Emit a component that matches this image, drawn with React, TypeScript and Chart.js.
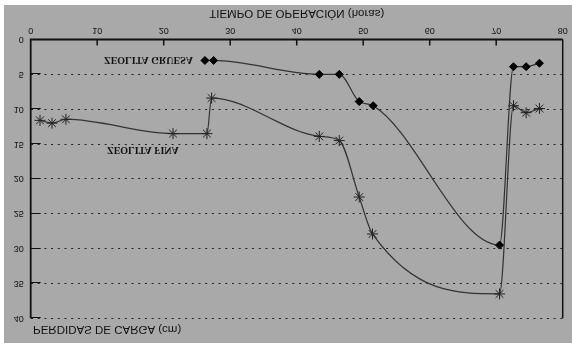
import React, { useEffect, useRef } from "react";
import { Chart, registerables } from "chart.js";

Chart.register(...registerables);

const gruesaX = [26.2, 27.5, 43.4, 46.4, 49.4, 51.5, 70.5, 72.6, 74.5, 76.5];
const gruesaY = [3.0, 3.0, 5.0, 5.0, 8.9, 9.5, 29.5, 3.9, 3.9, 3.4];
const finaX = [1.4, 3.2, 5.3, 21.4, 26.5, 27.2, 43.4, 46.4, 49.4, 51.4, 70.5, 72.6, 74.5, 76.5];
const finaY = [11.6, 12.0, 11.45, 13.5, 13.5, 8.4, 13.9, 14.5, 22.6, 27.9, 36.5, 9.5, 10.5, 9.9];
const xTicks = [0, 10, 20, 30, 40, 50, 60, 70, 80];
const yTicks = [0, 5, 10, 15, 20, 25, 30, 35, 40];
const xTitle = "TIEMPO DE OPERACIÓN (horas)";
const yTitle = "PERDIDAS DE CARGA (cm)";
const gruesaLabel = "ZEOLITA GRUESA";
const finaLabel = "ZEOLITA FINA";

const W = 568;
const H = 338;

export default function App() {
  const ref = useRef<HTMLCanvasElement | null>(null);
  useEffect(() => {
    if (!ref.current) return;
    const decor = {
      id: "decor",
      afterDraw(chart: any) {
        const { ctx, chartArea: a, scales } = chart;
        const xs = scales.x;
        const ys = scales.y;
        ctx.save();
        ctx.strokeStyle = "#111";
        ctx.setLineDash([]);
        ctx.lineWidth = 1;
        yTicks.forEach((v) => {
          if (v === 0) return;
          const y = Math.round(ys.getPixelForValue(v)) + 0.5;
          ctx.beginPath();
          ctx.moveTo(a.left, y);
          ctx.lineTo(a.left + 10, y);
          ctx.stroke();
        });
        ctx.lineWidth = 1.5;
        xTicks.forEach((v) => {
          if (v === 0 || v === 80) return;
          const x = xs.getPixelForValue(v);
          ctx.beginPath();
          ctx.moveTo(x, a.bottom);
          ctx.lineTo(x, a.bottom - 6);
          ctx.stroke();
        });
        ctx.lineWidth = 1.8;
        ctx.beginPath();
        ctx.moveTo(a.left, a.top);
        ctx.lineTo(a.left, a.bottom);
        ctx.lineTo(a.right, a.bottom);
        ctx.stroke();
        ctx.lineWidth = 1.5;
        ctx.beginPath();
        ctx.moveTo(a.right, a.top);
        ctx.lineTo(a.right, a.bottom);
        ctx.stroke();
        ctx.fillStyle = "#111";
        ctx.textBaseline = "middle";
        ctx.font = "11.5px 'Liberation Sans', Arial, sans-serif";
        ctx.textAlign = "center";
        ctx.fillText(xTitle, (a.left + a.right) / 2, 330);
        ctx.textAlign = "left";
        ctx.fillText(yTitle, 29, 14);
        ctx.font = "bold 10px 'Liberation Serif', 'Times New Roman', serif";
        ctx.textAlign = "right";
        ctx.fillText(gruesaLabel, 189, 283);
        ctx.textAlign = "left";
        ctx.fillText(finaLabel, 103, 193.5);
        ctx.restore();
      },
    };
    const chart = new Chart(ref.current, {
      type: "line",
      data: {
        datasets: [
          {
            label: gruesaLabel,
            data: gruesaX.map((x, i) => ({ x, y: gruesaY[i] })),
            borderColor: "#333",
            borderWidth: 1.2,
            backgroundColor: "#000",
            pointStyle: "rectRot",
            pointRadius: 4,
            pointBorderColor: "#000",
            pointBackgroundColor: "#000",
            pointBorderWidth: 1,
            cubicInterpolationMode: "monotone",
            fill: false,
          },
          {
            label: finaLabel,
            data: finaX.map((x, i) => ({ x, y: finaY[i] })),
            borderColor: "#333",
            borderWidth: 1.2,
            pointStyle: "star",
            pointRadius: 5.5,
            pointBorderColor: "#222",
            pointBorderWidth: 1,
            cubicInterpolationMode: "monotone",
            fill: false,
          },
        ],
      },
      options: {
        responsive: false,
        animation: false,
        events: [],
        layout: { padding: { top: 24.7, right: 9.3, left: 0, bottom: 0 } },
        plugins: {
          legend: { display: false },
          tooltip: { enabled: false },
          title: { display: false },
        },
        scales: {
          x: {
            type: "linear",
            min: 0,
            max: 80,
            afterBuildTicks: (s: any) => {
              s.ticks = xTicks.map((v) => ({ value: v }));
            },
            afterFit: (s: any) => {
              s.height = 34.5;
            },
            grid: { display: false, drawTicks: false },
            border: { display: false },
            ticks: {
              color: "#111",
              padding: 4,
              maxRotation: 0,
              autoSkip: false,
              font: { family: "'Liberation Sans', Arial, sans-serif", size: 9 },
            },
          },
          y: {
            type: "linear",
            min: 0,
            max: 40,
            afterBuildTicks: (s: any) => {
              s.ticks = yTicks.map((v) => ({ value: v }));
            },
            afterFit: (s: any) => {
              s.width = 26.7;
            },
            grid: {
              drawTicks: false,
              color: (c: any) => (c.tick && c.tick.value === 0 ? "rgba(0,0,0,0)" : "#222"),
              lineWidth: 1,
            },
            border: { display: false, dash: [2, 4.7] },
            ticks: {
              color: "#111",
              padding: 7,
              autoSkip: false,
              font: { family: "'Liberation Sans', Arial, sans-serif", size: 9 },
            },
          },
        },
      },
      plugins: [decor],
    } as any);
    return () => chart.destroy();
  }, []);
  return (
    <div
      style={{
        position: "absolute",
        left: 4,
        top: 5,
        width: W,
        height: H,
        background: "#a9a9a9",
      }}
    >
      <canvas
        ref={ref}
        width={W}
        height={H}
        style={{ width: W, height: H, display: "block", transform: "scaleY(-1)" }}
      />
    </div>
  );
}
